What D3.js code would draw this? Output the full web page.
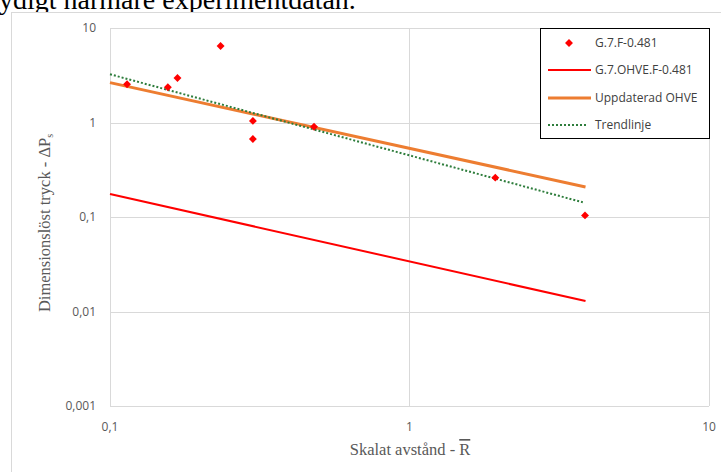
<!DOCTYPE html>
<html>
<head>
<meta charset="utf-8">
<script src="https://cdn.jsdelivr.net/npm/d3@7"></script>
<style>
  body { margin: 0; background: #fff; }
  svg { display: block; }
</style>
</head>
<body>
<div id="chart"></div>
<script>
// measured values (log-log chart)
const scatterX = [0.114, 0.156, 0.168, 0.234, 0.300, 0.300, 0.480, 1.934, 3.855];
const scatterY = [2.54, 2.36, 2.96, 6.45, 1.04, 0.669, 0.903, 0.261, 0.104];

const ohveX = [0.1, 3.87];
const ohveY = [0.175, 0.0129];

const updX = [0.1, 3.87];
const updY = [2.64, 0.208];

const trendX = [0.1, 3.79];
const trendY = [3.24, 0.143];

const xTicks = [0.1, 1, 10];
const yTicks = [0.001, 0.01, 0.1, 1, 10];
const fmt = d => String(d).replace(".", ",");

const legendNames = ["G.7.F-0.481", "G.7.OHVE.F-0.481", "Uppdaterad OHVE", "Trendlinje"];

const W = 721, H = 472;
const plot = {left: 110, right: 709, top: 28, bottom: 406};

const svg = d3.select("#chart").append("svg")
    .attr("width", W).attr("height", H);

// text from the document above the chart (cut off)
svg.append("text")
    .attr("x", -1).attr("y", 9)
    .attr("font-family", "Liberation Serif, Times New Roman, serif")
    .attr("font-size", 28)
    .attr("fill", "#000")
    .text("ydigt närmare experimentdatan.");

// chart frame
svg.append("rect")
    .attr("x", 11.5).attr("y", 12.5).attr("width", 730).attr("height", 480)
    .attr("fill", "#fff").attr("stroke", "#d9d9d9");

const x = d3.scaleLog().domain([0.1, 10]).range([plot.left, plot.right]);
const y = d3.scaleLog().domain([0.001, 10]).range([plot.bottom, plot.top]);

// gridlines
svg.append("g").selectAll("line").data(yTicks).join("line")
    .attr("x1", plot.left).attr("x2", plot.right)
    .attr("y1", d => Math.round(y(d)) + 0.5).attr("y2", d => Math.round(y(d)) + 0.5)
    .attr("stroke", "#d9d9d9").attr("stroke-width", 1);
svg.append("g").selectAll("line").data(xTicks).join("line")
    .attr("y1", plot.top).attr("y2", plot.bottom)
    .attr("x1", d => Math.round(x(d)) + 0.5).attr("x2", d => Math.round(x(d)) + 0.5)
    .attr("stroke", "#d9d9d9").attr("stroke-width", 1);

// tick labels
const tickFont = "Open Sans, Lato, sans-serif";
svg.append("g").selectAll("text").data(yTicks).join("text")
    .attr("x", 96).attr("y", d => y(d)).attr("dy", "0.35em")
    .attr("text-anchor", "end")
    .attr("font-family", tickFont).attr("font-size", 12).attr("fill", "#595959")
    .text(fmt);
svg.append("g").selectAll("text").data(xTicks).join("text")
    .attr("x", d => x(d)).attr("y", 427).attr("dy", "0.35em")
    .attr("text-anchor", "middle")
    .attr("font-family", tickFont).attr("font-size", 12).attr("fill", "#595959")
    .text(fmt);

// axis titles
const titleFont = "Liberation Serif, Times New Roman, serif";
const xt = svg.append("text")
    .attr("x", 410).attr("y", 455)
    .attr("text-anchor", "middle")
    .attr("font-family", titleFont).attr("font-size", 16.5).attr("fill", "#595959");
xt.append("tspan").text("Skalat avstånd - ");
xt.append("tspan").attr("text-decoration", "overline").text("R");

const yt = svg.append("text")
    .attr("transform", "translate(50,223) rotate(-90)")
    .attr("text-anchor", "middle")
    .attr("font-family", titleFont).attr("font-size", 16.5).attr("fill", "#595959");
yt.append("tspan").text("Dimensionslöst tryck - ΔP");
yt.append("tspan").attr("font-size", 10).attr("dy", 3).text("s");

// lines
const line = d3.line().x(d => x(d[0])).y(d => y(d[1]));
svg.append("path").datum(d3.zip(ohveX, ohveY))
    .attr("d", line).attr("fill", "none").attr("stroke", "#ff0000").attr("stroke-width", 2);
svg.append("path").datum(d3.zip(updX, updY))
    .attr("d", line).attr("fill", "none").attr("stroke", "#ed7d31").attr("stroke-width", 3);
svg.append("path").datum(d3.zip(trendX, trendY))
    .attr("d", line).attr("fill", "none").attr("stroke", "#2e7d3c").attr("stroke-width", 2)
    .attr("stroke-dasharray", "2,2");

// scatter points
const diamond = d3.symbol().type(d3.symbolDiamond2).size(40);
svg.append("g").selectAll("path").data(d3.zip(scatterX, scatterY)).join("path")
    .attr("transform", d => `translate(${x(d[0])},${y(d[1])})`)
    .attr("d", diamond).attr("fill", "#ff0000");

// legend
const lg = svg.append("g");
lg.append("rect").attr("x", 540.5).attr("y", 28.5).attr("width", 169).attr("height", 110)
    .attr("fill", "#fff").attr("stroke", "#000").attr("stroke-width", 1);
const rowY = [43, 70, 98, 125];
lg.append("path").attr("transform", `translate(569,${rowY[0]})`)
    .attr("d", diamond).attr("fill", "#ff0000");
lg.append("line").attr("x1", 548).attr("x2", 591).attr("y1", rowY[1]).attr("y2", rowY[1])
    .attr("stroke", "#ff0000").attr("stroke-width", 2);
lg.append("line").attr("x1", 548).attr("x2", 591).attr("y1", rowY[2]).attr("y2", rowY[2])
    .attr("stroke", "#ed7d31").attr("stroke-width", 3);
lg.append("line").attr("x1", 548).attr("x2", 588).attr("y1", rowY[3]).attr("y2", rowY[3])
    .attr("stroke", "#2e7d3c").attr("stroke-width", 2).attr("stroke-dasharray", "2,2");
lg.selectAll("text.lbl").data(legendNames).join("text")
    .attr("class", "lbl")
    .attr("x", 595).attr("y", (d, i) => rowY[i]).attr("dy", "0.35em")
    .attr("font-family", tickFont).attr("font-size", 12).attr("fill", "#404040")
    .text(d => d);
</script>
</body>
</html>
